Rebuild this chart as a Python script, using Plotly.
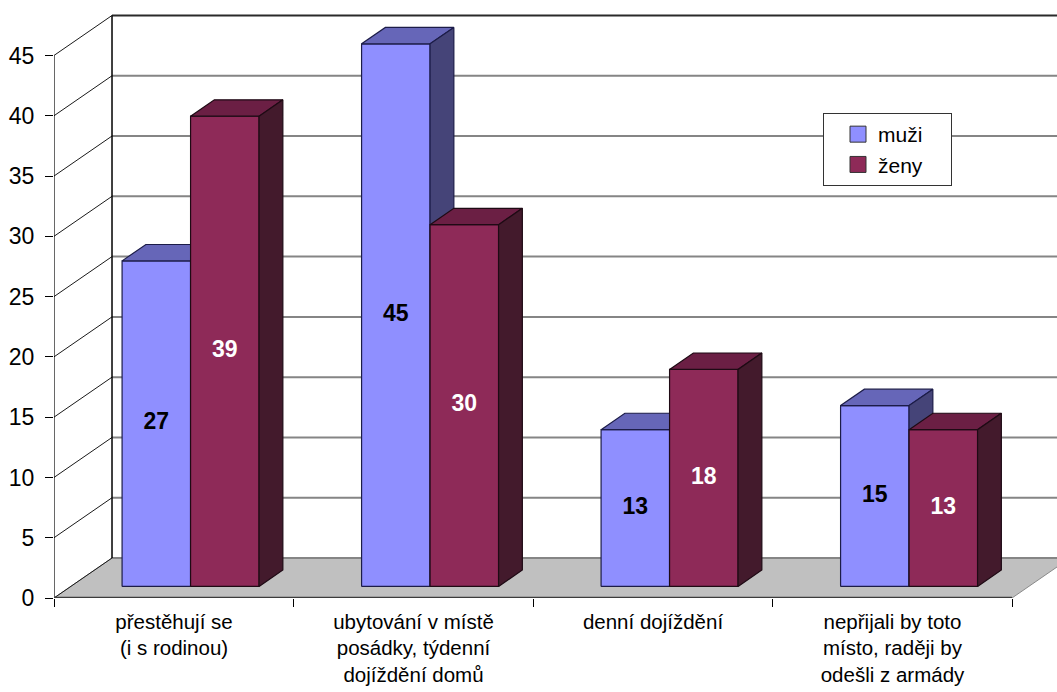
import plotly.graph_objects as go

# Category labels, series values and value-axis ticks
categories = [
    "přestěhují se<br>(i s rodinou)",
    "ubytování v místě<br>posádky, týdenní<br>dojíždění domů",
    "denní dojíždění",
    "nepřijali by toto<br>místo, raději by<br>odešli z armády",
]
muzi = [27, 45, 13, 15]
zeny = [39, 30, 18, 13]
y_ticks = [0, 5, 10, 15, 20, 25, 30, 35, 40, 45]

FONT = "Arial, 'Liberation Sans', sans-serif"

# Oblique projection of the depth axis onto the x/y data axes
DX = 0.2422   # x shift (category units) for full depth
DY = 3.317    # y shift (value units) for full depth
Z0, Z1 = 0.29, 0.70   # bar front / back depth
BAR_W = 0.286          # bar width in category units
X_MAX = -0.5 + 1003 / 239.5
Y_MAX = 49.6
TOP = max(y_ticks)


def proj(x, y, z):
    return x + z * DX, y + z * DY


def poly(points, fill, line_color, line_width=1.2):
    xs, ys = [], []
    for p in points + points[:1]:
        px, py = proj(*p)
        xs.append(px)
        ys.append(py)
    return go.Scatter(x=xs, y=ys, mode="lines", fill="toself", fillcolor=fill,
                      line=dict(color=line_color, width=line_width),
                      hoverinfo="skip", showlegend=False)


def seg(p1, p2, color, width):
    a, b = proj(*p1), proj(*p2)
    return go.Scatter(x=[a[0], b[0]], y=[a[1], b[1]], mode="lines",
                      line=dict(color=color, width=width),
                      hoverinfo="skip", showlegend=False)


fig = go.Figure()
n = len(categories)

# floor
fig.add_trace(poly([(-0.5, 0, 0), (n - 0.5, 0, 0), (n - 0.5, 0, 1), (-0.5, 0, 1)],
                   "#C0C0C0", "#8A8A8A", 1))

# back-wall gridlines and side-wall diagonals
for v in y_ticks:
    a = proj(-0.5, v, 1)
    fig.add_trace(go.Scatter(x=[a[0], X_MAX], y=[a[1], a[1]], mode="lines",
                             line=dict(color="#2A2A2A" if v == TOP else "#858585",
                                       width=2),
                             hoverinfo="skip", showlegend=False))
    fig.add_trace(seg((-0.5, v, 0), (-0.5, v, 1), "#1A1A1A", 1))

# back-wall left edge, front value axis, floor front edge
fig.add_trace(seg((-0.5, 0, 1), (-0.5, TOP, 1), "#000000", 1.5))
fig.add_trace(seg((-0.5, 0, 0), (-0.5, TOP, 0), "#000000", 1.2))
fig.add_trace(seg((-0.5, 0, 0), (n - 0.5, 0, 0), "#3C3C3C", 2.5))

series = [
    (muzi, "muži", -BAR_W, "#8F8FFF", "#6666B8", "#454478", "#1C1C48", "#000000"),
    (zeny, "ženy", 0.0, "#8E2A58", "#6B1F44", "#431A2C", "#1E0A14", "#FFFFFF"),
]

for i in range(n):
    for vals, name, off, c_front, c_top, c_side, c_line, _ in series:
        v = vals[i]
        x0 = i + off
        x1 = x0 + BAR_W
        fig.add_trace(poly([(x0, 0, Z0), (x1, 0, Z0), (x1, v, Z0), (x0, v, Z0)],
                           c_front, c_line))
        fig.add_trace(poly([(x0, v, Z0), (x1, v, Z0), (x1, v, Z1), (x0, v, Z1)],
                           c_top, c_line))
        fig.add_trace(poly([(x1, 0, Z0), (x1, 0, Z1), (x1, v, Z1), (x1, v, Z0)],
                           c_side, c_line))

# value labels on the bar fronts
for vals, name, off, *_rest, txt_color in series:
    xs, ys = [], []
    for i, v in enumerate(vals):
        px, py = proj(i + off + BAR_W / 2, v / 2, Z0)
        xs.append(px)
        ys.append(py)
    fig.add_trace(go.Scatter(x=xs, y=ys, mode="text", text=[str(v) for v in vals],
                             textfont=dict(family=FONT, size=23, color=txt_color),
                             texttemplate="<b>%{text}</b>",
                             hoverinfo="skip", showlegend=False))

# legend entries
for vals, name, off, c_front, *_rest in series:
    fig.add_trace(go.Scatter(x=[None], y=[None], mode="markers",
                             name=name + "\u00a0\u00a0\u00a0\u00a0",
                             marker=dict(symbol="square", size=16, color=c_front,
                                         line=dict(color="#333333", width=1))))

fig.update_layout(
    width=1057, height=692,
    margin=dict(l=54, r=0, t=0, b=94, autoexpand=False),
    paper_bgcolor="white", plot_bgcolor="white",
    font=dict(family=FONT, color="#000000"),
    showlegend=True,
    legend=dict(x=(823 - 54) / 1003, y=1 - 113 / 598, xanchor="left", yanchor="top",
                bgcolor="white", bordercolor="#333333", borderwidth=1,
                font=dict(size=21, family=FONT), indentation=14,
                tracegroupgap=0),
    xaxis=dict(range=[-0.5, X_MAX], tickvals=[i - 0.5 for i in range(n + 1)],
               ticktext=categories + [""], ticklabelshift=120,
               ticklabelstandoff=-3,
               ticks="outside", ticklen=8, tickcolor="#000000",
               tickfont=dict(size=20.5, family=FONT), automargin=False,
               showgrid=False, zeroline=False, showline=False, fixedrange=True),
    yaxis=dict(range=[0, Y_MAX], tickvals=y_ticks, ticks="outside", ticklen=8,
               tickcolor="#000000", tickfont=dict(size=23, family=FONT),
               ticklabelstandoff=6, automargin=False,
               showgrid=False, zeroline=False, showline=False, fixedrange=True),
)

fig.write_html("out.html")
